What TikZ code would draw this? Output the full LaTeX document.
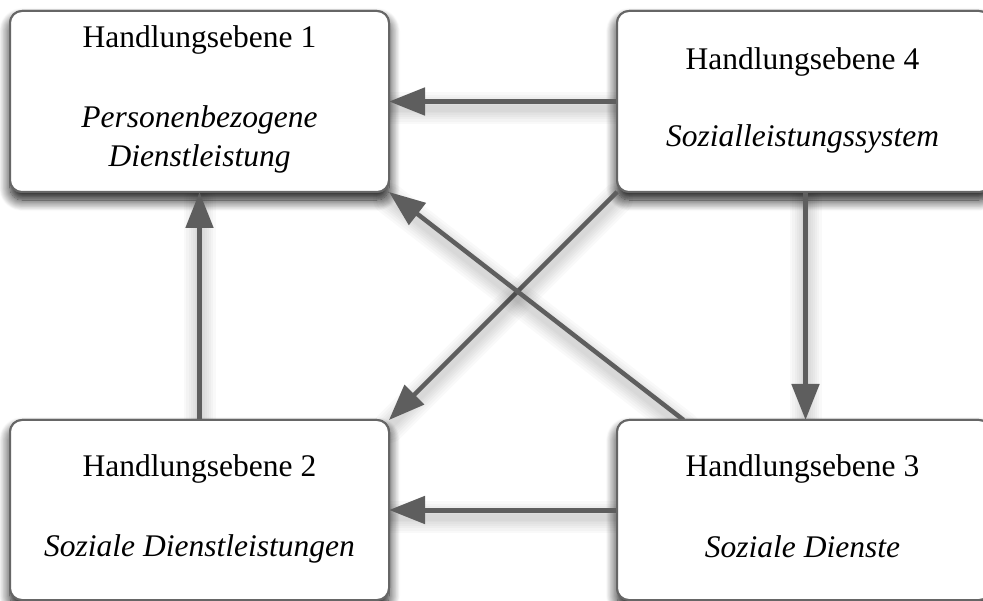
\documentclass[tikz,border=0pt]{standalone}
\usepackage{fontspec}
\setmainfont{Liberation Serif}
\usetikzlibrary{arrows.meta,calc,shadows.blur}

\definecolor{linegray}{HTML}{5E5E5E}
\definecolor{framegray}{HTML}{666666}

\tikzset{
  levelbox/.style={draw=framegray, line width=2pt, fill=white, rounded corners=12pt,
    inner sep=0pt, outer sep=0pt,
    blur shadow={shadow xshift=0pt, shadow yshift=-8pt, shadow blur radius=11pt,
      shadow opacity=95, shadow blur steps=14}},
  boxtext/.style={anchor=base, inner sep=0pt, font=\fontsize{31.5}{39}\selectfont},
  softline/.style={preaction={draw=black, opacity=0.022, line width=#1, -,
      line cap=round, transform canvas={yshift=-7pt}}},
  conn/.style={draw=linegray, line width=5pt, -{Triangle[length=36pt,width=27pt]},
    softline=32pt, softline=27pt, softline=22pt, softline=18pt, softline=14pt,
    softline=10pt, softline=7pt},
}

\begin{document}
\begin{tikzpicture}[x=1pt, y=-1pt]
  \useasboundingbox (0,0) rectangle (983,601);

  % the four levels of action
  \node[levelbox, minimum width=379pt, minimum height=181pt] (b1) at (199.5,101.5) {};
  \node[levelbox, minimum width=374pt, minimum height=181pt] (b4) at (804,101.5) {};
  \node[levelbox, minimum width=379pt, minimum height=180pt] (b2) at (199.5,510) {};
  \node[levelbox, minimum width=374pt, minimum height=180pt] (b3) at (804,510) {};

  % connections between the levels
  \coordinate (s31) at ($(b3.north west)!0.178!(b3.north east)$);
  \coordinate (s43) at ($(b4.south)+(1.5,0)$);
  \coordinate (e43) at ($(b3.north)+(1.5,0)$);
  \path[conn] (b4.west) -- (b1.east);
  \path[conn] (b3.west) -- (b2.east);
  \path[conn] (b2.north) -- (b1.south);
  \path[conn] (s43) -- (e43);
  \path[conn, line width=4.5pt] (b4.south west) -- (b2.north east);
  \path[conn, line width=4.5pt] (s31) -- (b1.south east);

  % box faces and frames above the line ends
  \draw[draw=framegray, fill=white, line width=2pt, rounded corners=12pt]
    (b1.south west) rectangle (b1.north east)
    (b4.south west) rectangle (b4.north east)
    (b2.south west) rectangle (b2.north east)
    (b3.south west) rectangle (b3.north east);

  % labels
  \node[boxtext] (t1a) at (199.5,48) {Handlungsebene 1};
  \node[boxtext] (t1b) at (199.5,128) {\itshape Personenbezogene};
  \node[boxtext] (t1c) at (199.5,167) {\itshape Dienstleistung};
  \node[boxtext] (t4a) at (802.5,70) {Handlungsebene 4};
  \node[boxtext] (t4b) at (802.5,147) {\itshape Sozialleistungssystem};
  \node[boxtext] (t2a) at (199.5,476) {Handlungsebene 2};
  \node[boxtext] (t2b) at (199.5,556) {\itshape Soziale Dienstleistungen};
  \node[boxtext] (t3a) at (802.5,477) {Handlungsebene 3};
  \node[boxtext] (t3b) at (802.5,557) {\itshape Soziale Dienste};
\end{tikzpicture}
\end{document}
